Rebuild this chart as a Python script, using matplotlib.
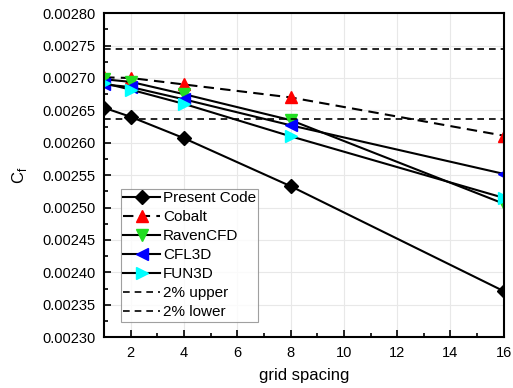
import matplotlib.pyplot as plt
import numpy as np

grid = [1, 2, 4, 8, 16]
present_code = [0.002654, 0.002640, 0.002607, 0.002533, 0.002371]
cobalt = [0.002701, 0.002700, 0.002690, 0.002670, 0.002611]
ravencfd = [0.002698, 0.002694, 0.002675, 0.002635, 0.002506]
cfl3d = [0.002690, 0.002686, 0.002667, 0.002627, 0.002552]
fun3d = [0.002692, 0.002682, 0.002660, 0.002610, 0.002515]
upper = 0.002745
lower = 0.002637


def main():
	plt.rcParams['font.family'] = ['Liberation Sans', 'DejaVu Sans']
	fig = plt.figure(figsize=(5.13, 3.88), dpi=100)
	ax = fig.add_axes([0.203, 0.131, 0.779, 0.835])

	ax.plot(grid, present_code, '-', color='black', lw=1.5, marker='D', ms=7,
			mfc='black', mec='black', label='Present Code')
	ax.plot(grid, cobalt, color='black', lw=1.5, dashes=(5, 3), marker='^', ms=9,
			mfc='red', mec='red', label='Cobalt')
	ax.plot(grid, ravencfd, '-', color='black', lw=1.5, marker='v', ms=9,
			mfc='#22dd22', mec='#22dd22', label='RavenCFD')
	ax.plot(grid, cfl3d, '-', color='black', lw=1.5, marker='<', ms=9,
			mfc='blue', mec='blue', label='CFL3D')
	ax.plot(grid, fun3d, '-', color='black', lw=1.5, marker='>', ms=9,
			mfc='cyan', mec='cyan', label='FUN3D')
	ax.axhline(upper, color='black', dashes=(4, 3), lw=1.2, label='2% upper')
	ax.axhline(lower, color='black', dashes=(4, 3), lw=1.2, label='2% lower')

	ax.set_xlim(1, 16)
	ax.set_ylim(0.00230, 0.00280)
	ax.set_xticks(np.arange(2, 17, 2))
	ax.set_xticks(np.arange(1, 17, 1), minor=True)
	yt = np.arange(0.00230, 0.002801, 0.00005)
	ax.set_yticks(yt)
	ax.set_yticks(np.arange(0.00230, 0.002801, 0.000025), minor=True)
	ax.set_yticklabels(['%.5f' % v for v in yt])
	ax.tick_params(direction='in', which='both', labelsize=10.5, top=False, right=False, pad=6)
	ax.tick_params(which='major', length=5, width=1.2)
	ax.tick_params(which='minor', length=3, width=1.2)
	ax.grid(True, which='major', color='#e8e8e8', lw=0.8)
	ax.set_axisbelow(True)
	for s in ax.spines.values():
		s.set_linewidth(1.5)

	ax.set_xlabel('grid spacing', fontsize=12, labelpad=6)
	ax.set_ylabel('C$_\\mathregular{f}$', fontsize=12, labelpad=10)

	leg = ax.legend(loc='lower left', bbox_to_anchor=(0.042, 0.048), fontsize=11,
					frameon=True, fancybox=False, edgecolor='#888888',
					handlelength=2.4, borderpad=0.15, labelspacing=0.33,
					handletextpad=0.2, borderaxespad=0)
	leg.get_frame().set_linewidth(0.8)

	plt.savefig('out.png', dpi=100)


main()
